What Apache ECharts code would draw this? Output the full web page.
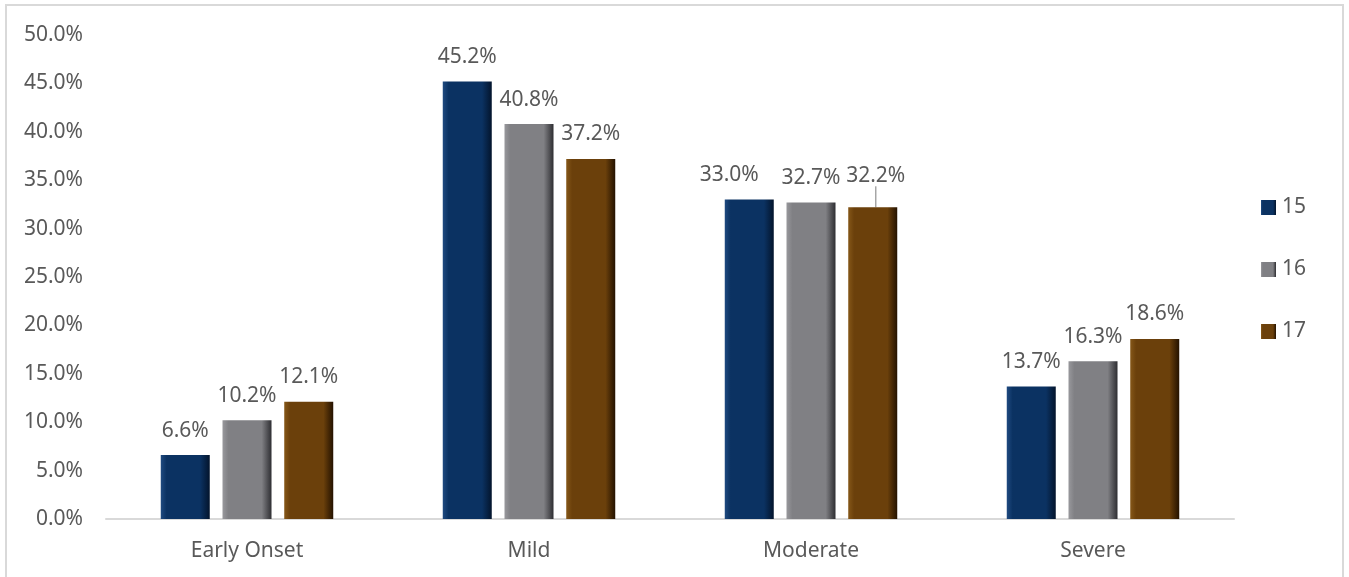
<!DOCTYPE html>
<html>
<head>
<meta charset="utf-8">
<script src="https://cdn.jsdelivr.net/npm/echarts@6/dist/echarts.min.js"></script>
<style>
html,body{margin:0;padding:0;background:#fff;}
#chart{width:1349px;height:577px;}
</style>
</head>
<body>
<div id="chart"></div>
<script>
const categories = ['Early Onset', 'Mild', 'Moderate', 'Severe'];
const seriesNames = ['15', '16', '17'];
const values15 = [6.6, 45.2, 33.0, 13.7];
const values16 = [10.2, 40.8, 32.7, 16.3];
const values17 = [12.1, 37.2, 32.2, 18.6];

const palettes = [
  {light: '#1f4a80', base: '#0b3262', dark: '#03142c'},
  {light: '#98989c', base: '#808084', dark: '#2e2e32'},
  {light: '#855718', base: '#6b400b', dark: '#241200'}
];
function grad(p) {
  return new echarts.graphic.LinearGradient(0, 0, 1, 0, [
    {offset: 0, color: p.light},
    {offset: 0.12, color: p.base},
    {offset: 0.8, color: p.base},
    {offset: 1, color: p.dark}
  ]);
}
const font = 'Noto Sans';
const txt = '#595959';
const allValues = [values15, values16, values17];
// manual label nudges (as in the original chart)
const labelShift = {'0-2': {dx: -20, dy: 0}, '2-2': {dx: 3, dy: -7}};
const leaderLines = {'2-2': true};

const chart = echarts.init(document.getElementById('chart'));
chart.setOption({
  animation: false,
  backgroundColor: '#fff',
  grid: {left: 106, right: 115, top: 35, bottom: 58, containLabel: false},
  graphic: [{
    type: 'rect', shape: {x: 6, y: 5, width: 1337, height: 580},
    style: {fill: 'none', stroke: '#d9d9d9', lineWidth: 2}, silent: true, z: -1
  }],
  legend: {
    orient: 'vertical', left: 1256, top: 192, itemWidth: 15, itemHeight: 15, itemGap: 41,
    icon: 'rect',
    textStyle: {fontFamily: font, fontSize: 21, color: txt, padding: [0, 0, 0, 1]},
    data: seriesNames
  },
  xAxis: {
    type: 'category', data: categories,
    axisLine: {lineStyle: {color: '#d9d9d9', width: 2}},
    axisTick: {show: false},
    axisLabel: {fontFamily: font, fontSize: 21, color: txt, margin: 22}
  },
  yAxis: {
    type: 'value', min: 0, max: 50, interval: 5,
    axisLine: {show: false}, axisTick: {show: false},
    splitLine: {show: false},
    axisLabel: {fontFamily: font, fontSize: 21, color: txt, margin: 23,
      formatter: v => v.toFixed(1) + '%'}
  },
  series: seriesNames.map((n, i) => ({
    name: n, type: 'bar',
    data: allValues[i].map((v, j) => leaderLines[i + '-' + j]
      ? {value: v, labelLine: {show: true}} : v),
    barWidth: 49, barGap: '26%',
    itemStyle: {color: grad(palettes[i])},
    label: {show: true, position: 'top', distance: 14, fontFamily: font, fontSize: 21, color: txt,
      formatter: p => p.value.toFixed(1) + '%'},
    labelLayout: p => labelShift[i + '-' + p.dataIndex] || {},
    labelLine: {show: false, lineStyle: {color: '#a6a6a6', width: 1.5}, length2: 0}
  }))
});
</script>
</body>
</html>
